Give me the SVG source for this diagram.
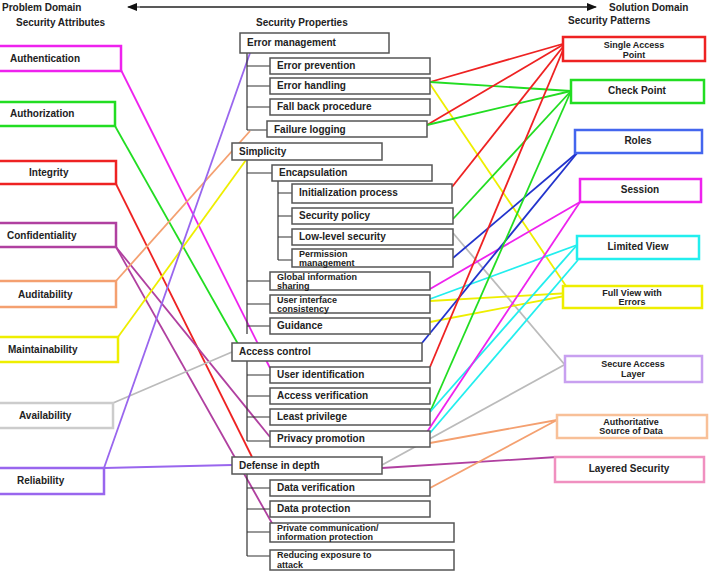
<svg xmlns="http://www.w3.org/2000/svg" width="727" height="572" viewBox="0 0 727 572">
<style>
text{font-family:"Liberation Sans",Arial,sans-serif;font-weight:bold;font-size:10px;fill:#222}
.s{font-size:9px}
.n rect{fill:#fff;stroke:#555;stroke-width:1.5}
.a rect{fill:#fff;stroke-width:2.5}
.t{stroke:#333;stroke-width:1.2;fill:none}
#conn line{stroke-width:1.8}
</style>
<defs><marker id="ah" markerWidth="10" markerHeight="8" refX="9" refY="4" orient="auto" markerUnits="userSpaceOnUse"><path d="M0,0L10,4L0,8z" fill="#111"/></marker></defs>
<rect width="727" height="572" fill="#fff"/>
<text x="2" y="11">Problem Domain</text>
<text x="609" y="11">Solution Domain</text>
<line x1="140" y1="7" x2="596" y2="7" stroke="#222" stroke-width="1.2" marker-end="url(#ah)"/>
<line x1="590" y1="7" x2="128" y2="7" stroke="#222" stroke-width="1.2" marker-end="url(#ah)"/>
<text x="16" y="26">Security Attributes</text>
<text x="256" y="26">Security Properties</text>
<text x="568" y="24">Security Patterns</text>

<g id="conn">
<line x1="121" y1="70" x2="270" y2="368" stroke="#ee22ee"/>
<line x1="115" y1="126" x2="238" y2="344" stroke="#22dd22"/>
<line x1="116" y1="184" x2="252" y2="457" stroke="#ee2222"/>
<line x1="116" y1="247" x2="270" y2="437" stroke="#b040a0"/>
<line x1="116" y1="247" x2="273" y2="525" stroke="#b040a0"/>
<line x1="116" y1="281" x2="250" y2="131" stroke="#f4a070"/>
<line x1="118" y1="337" x2="246" y2="160" stroke="#eeee00"/>
<line x1="113" y1="403" x2="232" y2="352" stroke="#bbbbbb"/>
<line x1="104" y1="468" x2="250" y2="53" stroke="#9966ee"/>
<line x1="104" y1="468" x2="232" y2="465" stroke="#9966ee"/>
<line x1="430" y1="82" x2="566" y2="43" stroke="#ee2222"/>
<line x1="430" y1="82" x2="571" y2="91" stroke="#22dd22"/>
<line x1="430" y1="84" x2="570" y2="292" stroke="#eeee00"/>
<line x1="427" y1="125" x2="566" y2="43" stroke="#ee2222"/>
<line x1="427" y1="125" x2="571" y2="91" stroke="#22dd22"/>
<line x1="452" y1="187" x2="566" y2="43" stroke="#ee2222"/>
<line x1="453" y1="219" x2="571" y2="91" stroke="#22dd22"/>
<line x1="453" y1="233" x2="565" y2="365" stroke="#bbbbbb"/>
<line x1="453" y1="258" x2="578" y2="152" stroke="#2233cc"/>
<line x1="430" y1="289" x2="580" y2="202" stroke="#ee22ee"/>
<line x1="430" y1="299" x2="577" y2="245" stroke="#22eeee"/>
<line x1="430" y1="301" x2="570" y2="293" stroke="#eeee00"/>
<line x1="430" y1="322" x2="570" y2="295" stroke="#eeee00"/>
<line x1="422" y1="343" x2="578" y2="152" stroke="#2233cc"/>
<line x1="430" y1="367" x2="566" y2="43" stroke="#ee2222"/>
<line x1="430" y1="412" x2="571" y2="91" stroke="#22dd22"/>
<line x1="430" y1="412" x2="577" y2="245" stroke="#22eeee"/>
<line x1="425" y1="435" x2="580" y2="202" stroke="#ee22ee"/>
<line x1="430" y1="433" x2="578" y2="260" stroke="#22eeee"/>
<line x1="430" y1="443" x2="557" y2="420" stroke="#f4a070"/>
<line x1="382" y1="465" x2="564" y2="365" stroke="#bbbbbb"/>
<line x1="382" y1="468" x2="557" y2="457" stroke="#b040a0"/>
<line x1="430" y1="488" x2="557" y2="420" stroke="#f4a070"/>
</g>

<g id="tree" class="t">
<path d="M247 53V130M247 66H270M247 86H270M247 107H270M247 130H267"/>
<path d="M247 160V334M247 173H272M247 281H270M247 304H270M247 326H270"/>
<path d="M278 181V260M278 193H292M278 216H292M278 237H292M278 260H292"/>
<path d="M247 361V441M247 375H270M247 396H270M247 417H270M247 441H270"/>
<path d="M247 474V556M247 488H270M247 509H270M247 532H270M247 556H270"/>
</g>

<g class="a">
<g id="authentication"><rect x="-2" y="46" width="123" height="25" stroke="#ee22ee"/><text x="10" y="62">Authentication</text></g>
<g id="authorization"><rect x="-2" y="102" width="117" height="24" stroke="#22dd22"/><text x="10" y="117">Authorization</text></g>
<g id="integrity"><rect x="-2" y="161" width="118" height="23" stroke="#ee2222"/><text x="29" y="176">Integrity</text></g>
<g id="confidentiality"><rect x="-2" y="223" width="118" height="24" stroke="#b040a0"/><text x="7" y="239">Confidentiality</text></g>
<g id="auditability"><rect x="-2" y="281" width="118" height="26" stroke="#f4a070"/><text x="18" y="298">Auditability</text></g>
<g id="maintainability"><rect x="-2" y="337" width="120" height="25" stroke="#eeee00"/><text x="8" y="353">Maintainability</text></g>
<g id="availability"><rect x="-2" y="403" width="115" height="25" stroke="#cccccc"/><text x="19" y="419">Availability</text></g>
<g id="reliability"><rect x="-2" y="468" width="106" height="26" stroke="#9966ee"/><text x="17" y="484">Reliability</text></g>

<g id="sap"><rect x="563" y="37" width="142" height="24" stroke="#ee2222"/><text class="s" x="634" y="48" text-anchor="middle">Single Access</text><text class="s" x="634" y="58" text-anchor="middle">Point</text></g>
<g id="checkpoint"><rect x="571" y="80" width="133" height="23" stroke="#22dd22"/><text x="637" y="94" text-anchor="middle">Check Point</text></g>
<g id="roles"><rect x="575" y="130" width="127" height="23" stroke="#4466ee"/><text x="638" y="144" text-anchor="middle">Roles</text></g>
<g id="session"><rect x="580" y="179" width="121" height="23" stroke="#ee22ee"/><text x="640" y="193" text-anchor="middle">Session</text></g>
<g id="limitedview"><rect x="577" y="236" width="122" height="23" stroke="#22eeee"/><text x="638" y="250" text-anchor="middle">Limited View</text></g>
<g id="fullview"><rect x="563" y="286" width="139" height="22" stroke="#eeee00"/><text class="s" x="632" y="296" text-anchor="middle">Full View with</text><text class="s" x="632" y="305" text-anchor="middle">Errors</text></g>
<g id="sal"><rect x="565" y="356" width="137" height="26" stroke="#c8a0f0"/><text class="s" x="633" y="367" text-anchor="middle">Secure Access</text><text class="s" x="633" y="377" text-anchor="middle">Layer</text></g>
<g id="asd"><rect x="557" y="415" width="150" height="23" stroke="#f8c098"/><text class="s" x="631" y="425" text-anchor="middle">Authoritative</text><text class="s" x="631" y="434" text-anchor="middle">Source of Data</text></g>
<g id="layered"><rect x="555" y="457" width="149" height="25" stroke="#f090c0"/><text x="629" y="472" text-anchor="middle">Layered Security</text></g>
</g>

<g class="n">
<g id="errmgmt"><rect x="240" y="33" width="149" height="20"/><text x="247" y="46">Error management</text></g>
<g id="errprev"><rect x="270" y="58" width="160" height="16"/><text x="277" y="69">Error prevention</text></g>
<g id="errhand"><rect x="270" y="78" width="160" height="16"/><text x="277" y="89">Error handling</text></g>
<g id="fallback"><rect x="270" y="99" width="160" height="16"/><text x="277" y="110">Fall back procedure</text></g>
<g id="faillog"><rect x="267" y="121" width="160" height="16"/><text x="274" y="133">Failure logging</text></g>
<g id="simplicity"><rect x="232" y="143" width="150" height="17"/><text x="239" y="155">Simplicity</text></g>
<g id="encap"><rect x="272" y="165" width="160" height="16"/><text x="279" y="176">Encapsulation</text></g>
<g id="initproc"><rect x="292" y="184" width="160" height="19"/><text x="299" y="196">Initialization process</text></g>
<g id="secpol"><rect x="292" y="208" width="161" height="16"/><text x="299" y="219">Security policy</text></g>
<g id="lowlevel"><rect x="292" y="229" width="161" height="16"/><text x="299" y="240">Low-level security</text></g>
<g id="perm"><rect x="292" y="249" width="161" height="18"/><text class="s" x="299" y="257">Permission</text><text class="s" x="299" y="266">management</text></g>
<g id="global"><rect x="270" y="272" width="160" height="18"/><text class="s" x="277" y="280">Global information</text><text class="s" x="277" y="289">sharing</text></g>
<g id="uic"><rect x="270" y="295" width="160" height="18"/><text class="s" x="277" y="303">User interface</text><text class="s" x="277" y="312">consistency</text></g>
<g id="guidance"><rect x="270" y="318" width="160" height="16"/><text x="277" y="329">Guidance</text></g>
<g id="access"><rect x="232" y="343" width="190" height="18"/><text x="239" y="355">Access control</text></g>
<g id="userid"><rect x="270" y="367" width="160" height="16"/><text x="277" y="378">User identification</text></g>
<g id="accver"><rect x="270" y="388" width="160" height="16"/><text x="277" y="399">Access verification</text></g>
<g id="least"><rect x="270" y="409" width="160" height="16"/><text x="277" y="420">Least privilege</text></g>
<g id="privacy"><rect x="270" y="431" width="160" height="16"/><text x="277" y="442">Privacy promotion</text></g>
<g id="defense"><rect x="232" y="457" width="150" height="17"/><text x="239" y="469">Defense in depth</text></g>
<g id="dataver"><rect x="270" y="480" width="160" height="16"/><text x="277" y="491">Data verification</text></g>
<g id="dataprot"><rect x="270" y="501" width="160" height="16"/><text x="277" y="512">Data protection</text></g>
<g id="privcomm"><rect x="270" y="523" width="184" height="19"/><text class="s" x="277" y="531">Private communication/</text><text class="s" x="277" y="540">information protection</text></g>
<g id="reduce"><rect x="270" y="550" width="184" height="20"/><text class="s" x="277" y="558">Reducing exposure to</text><text class="s" x="277" y="568">attack</text></g>
</g>
</svg>
